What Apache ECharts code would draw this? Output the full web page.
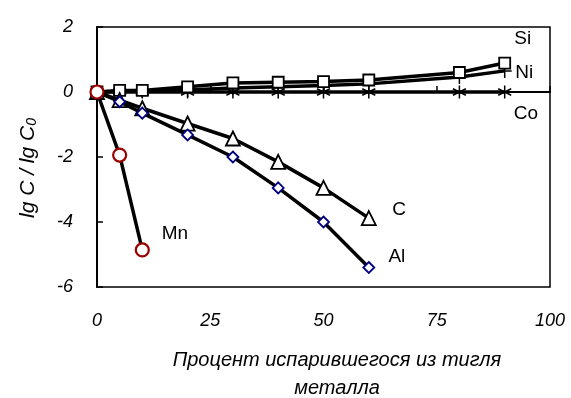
<!DOCTYPE html>
<html>
<head>
<meta charset="utf-8">
<script src="https://cdn.jsdelivr.net/npm/echarts@6/dist/echarts.min.js"></script>
<style>
  html, body { margin: 0; padding: 0; background: #fff; }
  #chart { width: 571px; height: 398px; }
</style>
</head>
<body>
<div id="chart"></div>
<script>
"use strict";

// percent evaporated
var xSi = [0, 5, 10, 20, 30, 40, 50, 60, 80, 90];
var ySi = [0, 0.05, 0.05, 0.16, 0.28, 0.3, 0.32, 0.37, 0.6, 0.89];
var yNi = [0, 0.02, 0.03, 0.06, 0.12, 0.16, 0.2, 0.25, 0.46, 0.65];
var yCo = [0, 0, 0, 0, 0, 0, 0, 0, 0, 0];

var xAlC = [0, 5, 10, 20, 30, 40, 50, 60];
var yC = [0, -0.25, -0.5, -0.97, -1.43, -2.15, -2.95, -3.88];
var yAl = [0, -0.3, -0.65, -1.32, -2.0, -2.95, -4.0, -5.4];

var xMn = [0, 5, 10];
var yMn = [0, -1.94, -4.86];

var xTicks = [0, 25, 50, 75, 100];
var yTicks = [-6, -4, -2, 0, 2];

// series name labels: [name, x, y]
var seriesLabels = [
    ['Si', 94, 1.63],
    ['Ni', 94.3, 0.58],
    ['Co', 94.7, -0.68],
    ['C', 66.7, -3.63],
    ['Al', 66.2, -5.08],
    ['Mn', 17.2, -4.37]
];

function pairs(xs, ys) {
    return xs.map(function (x, i) { return [x, ys[i]]; });
}

var asterisk = 'path://M0,-10L0,10M-8.66,-5L8.66,5M-8.66,5L8.66,-5';
var plus = 'path://M0,-10L0,10M-10,0L10,0';

var chart = echarts.init(document.getElementById('chart'));
chart.setOption({
    animation: false,
    grid: {
        left: 97,
        right: 21,
        top: 27,
        bottom: 111,
        show: true,
        borderColor: '#000',
        borderWidth: 1.5
    },
    xAxis: {
        type: 'value',
        min: xTicks[0],
        max: xTicks[xTicks.length - 1],
        interval: 25,
        axisLine: { show: true, lineStyle: { color: '#000', width: 2 } },
        axisTick: { show: true, inside: true, length: 6, lineStyle: { color: '#000', width: 1.5 } },
        splitLine: { show: false },
        axisLabel: {
            margin: 25,
            color: '#000',
            fontSize: 18,
            fontStyle: 'italic',
            fontFamily: 'Liberation Sans'
        }
    },
    yAxis: {
        type: 'value',
        min: yTicks[0],
        max: yTicks[yTicks.length - 1],
        interval: 2,
        axisLine: { show: true, onZero: false, lineStyle: { color: '#000', width: 2 } },
        axisTick: { show: true, inside: true, length: 6, lineStyle: { color: '#000', width: 1.5 } },
        splitLine: { show: false },
        axisLabel: {
            margin: 24,
            color: '#000',
            fontSize: 18,
            fontStyle: 'italic',
            fontFamily: 'Liberation Sans'
        }
    },
    graphic: [{
        type: 'text',
        x: 28,
        y: 168,
        rotation: Math.PI / 2,
        style: {
            text: '{a|lg C / lg C}{s|0}',
            align: 'center',
            verticalAlign: 'middle',
            rich: {
                a: { fontSize: 21, fontStyle: 'italic', fontFamily: 'Liberation Sans', fill: '#000' },
                s: { fontSize: 14, fontStyle: 'italic', fontFamily: 'Liberation Sans', fill: '#000', padding: [9, 0, 0, 0] }
            }
        }
    }, {
        type: 'text',
        x: 337,
        y: 360,
        style: {
            text: 'Процент испарившегося из тигля',
            align: 'center',
            verticalAlign: 'middle',
            fontSize: 20,
            fontStyle: 'italic',
            fontFamily: 'Liberation Sans',
            fill: '#000'
        }
    }, {
        type: 'text',
        x: 337,
        y: 388,
        style: {
            text: 'металла',
            align: 'center',
            verticalAlign: 'middle',
            fontSize: 20,
            fontStyle: 'italic',
            fontFamily: 'Liberation Sans',
            fill: '#000'
        }
    }],
    series: [{
        name: 'Co',
        type: 'line',
        data: pairs(xSi, yCo),
        symbol: asterisk,
        symbolSize: 13,
        lineStyle: { color: '#000', width: 3.5 },
        itemStyle: { color: 'none', borderColor: '#000', borderWidth: 1.5 },
        z: 2
    }, {
        name: 'Ni',
        type: 'line',
        data: pairs(xSi, yNi),
        symbol: plus,
        symbolSize: 14,
        lineStyle: { color: '#000', width: 3.5 },
        itemStyle: { color: 'none', borderColor: '#000', borderWidth: 1.5 },
        z: 3
    }, {
        name: 'Si',
        type: 'line',
        data: pairs(xSi, ySi),
        symbol: 'rect',
        symbolSize: 11,
        lineStyle: { color: '#000', width: 3.5 },
        itemStyle: { color: '#fff', borderColor: '#000', borderWidth: 1.8 },
        z: 4
    }, {
        name: 'C',
        type: 'line',
        data: pairs(xAlC, yC),
        symbol: 'triangle',
        symbolSize: 14,
        lineStyle: { color: '#000', width: 3.5 },
        itemStyle: { color: '#fff', borderColor: '#000', borderWidth: 1.8 },
        z: 5
    }, {
        name: 'Al',
        type: 'line',
        data: pairs(xAlC, yAl),
        symbol: 'diamond',
        symbolSize: 11,
        lineStyle: { color: '#000', width: 3.5 },
        itemStyle: { color: '#fff', borderColor: '#000080', borderWidth: 1.8 },
        z: 6
    }, {
        name: 'Mn',
        type: 'line',
        data: pairs(xMn, yMn),
        symbol: 'circle',
        symbolSize: 13,
        lineStyle: { color: '#000', width: 3.5 },
        itemStyle: { color: '#fff', borderColor: '#990000', borderWidth: 2.2 },
        z: 7
    }, {
        name: 'labels',
        type: 'scatter',
        data: seriesLabels.map(function (l) { return { name: l[0], value: [l[1], l[2]] }; }),
        symbolSize: 1,
        itemStyle: { color: 'rgba(0,0,0,0)', opacity: 1 },
        label: {
            show: true,
            position: 'inside',
            formatter: '{b}',
            color: '#000',
            opacity: 1,
            fontSize: 19,
            fontFamily: 'Liberation Sans'
        },
        silent: true,
        z: 8
    }]
});
</script>
</body>
</html>
